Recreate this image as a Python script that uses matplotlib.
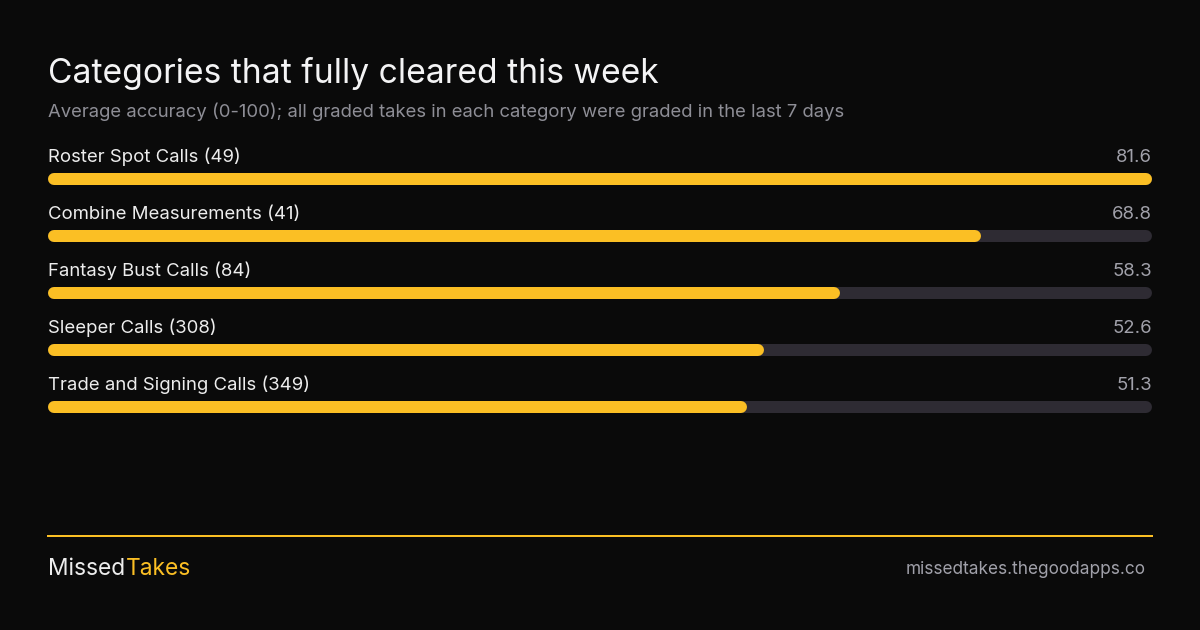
import matplotlib.pyplot as plt

plt.rcParams['font.family'] = ['Inter', 'DejaVu Sans']

categories = ['Roster Spot Calls', 'Combine Measurements', 'Fantasy Bust Calls',
              'Sleeper Calls', 'Trade and Signing Calls']
counts = [49, 41, 84, 308, 349]
accuracy = [81.6, 68.8, 58.3, 52.6, 51.3]

BG = '#0a0a0a'
YELLOW = '#fbbf24'
TRACK = '#2e2b33'
W, H = 1200, 630


def px(v):
    # pixels -> points at dpi 100
    return v * 72 / 100


fig = plt.figure(figsize=(12, 6.3), dpi=100, facecolor=BG)

# bar area: round caps add 6px on each side, so axes runs 54..1146 px
ax = fig.add_axes([54 / W, (H - 435.5) / H, 1092 / W, 285 / H])
ax.set_facecolor('none')
ax.set_xlim(0, max(accuracy))
ax.set_ylim(len(categories) - 0.5, -0.5)
ax.axis('off')

for i, (cat, n, v) in enumerate(zip(categories, counts, accuracy)):
    ax.plot([0, max(accuracy)], [i, i], color=TRACK, lw=px(12),
            solid_capstyle='round', zorder=1, clip_on=False)
    ax.plot([0, v], [i, i], color=YELLOW, lw=px(12),
            solid_capstyle='round', zorder=2, clip_on=False)
    ax.annotate(f'{cat} ({n})', xy=(0, i), xytext=(px(-6), px(17)),
                textcoords='offset points', ha='left', va='baseline',
                fontsize=13.35, color='#ededed')
    ax.annotate(f'{v:.1f}', xy=(max(accuracy), i), xytext=(px(6), px(17)),
                textcoords='offset points', ha='right', va='baseline',
                fontsize=13.35, color='#a1a1aa')

fig.text(48 / W, 1 - 83 / H, 'Categories that fully cleared this week',
         fontsize=24.2, color='#f4f4f5', ha='left', va='baseline')
fig.text(48 / W, 1 - 117 / H,
         'Average accuracy (0-100); all graded takes in each category were graded in the last 7 days',
         fontsize=13.3, color='#8e8e96', ha='left', va='baseline')

# footer
fig.add_artist(plt.Line2D([48 / W, 1152 / W], [1 - 536 / H, 1 - 536 / H],
                          color=YELLOW, lw=px(2)))
t1 = fig.text(48 / W, 1 - 575 / H, 'Missed', fontsize=16.4, color='#ededed',
              ha='left', va='baseline')
fig.canvas.draw()
bb = t1.get_window_extent()
fig.text((bb.x1 + 1) / W, 1 - 575 / H, 'Takes', fontsize=16.4, color=YELLOW,
         ha='left', va='baseline')
fig.text(1146 / W, 1 - 574 / H, 'missedtakes.thegoodapps.co', fontsize=12.4,
         color='#a1a1aa', ha='right', va='baseline')

fig.savefig('out.png', dpi=100, facecolor=BG)
